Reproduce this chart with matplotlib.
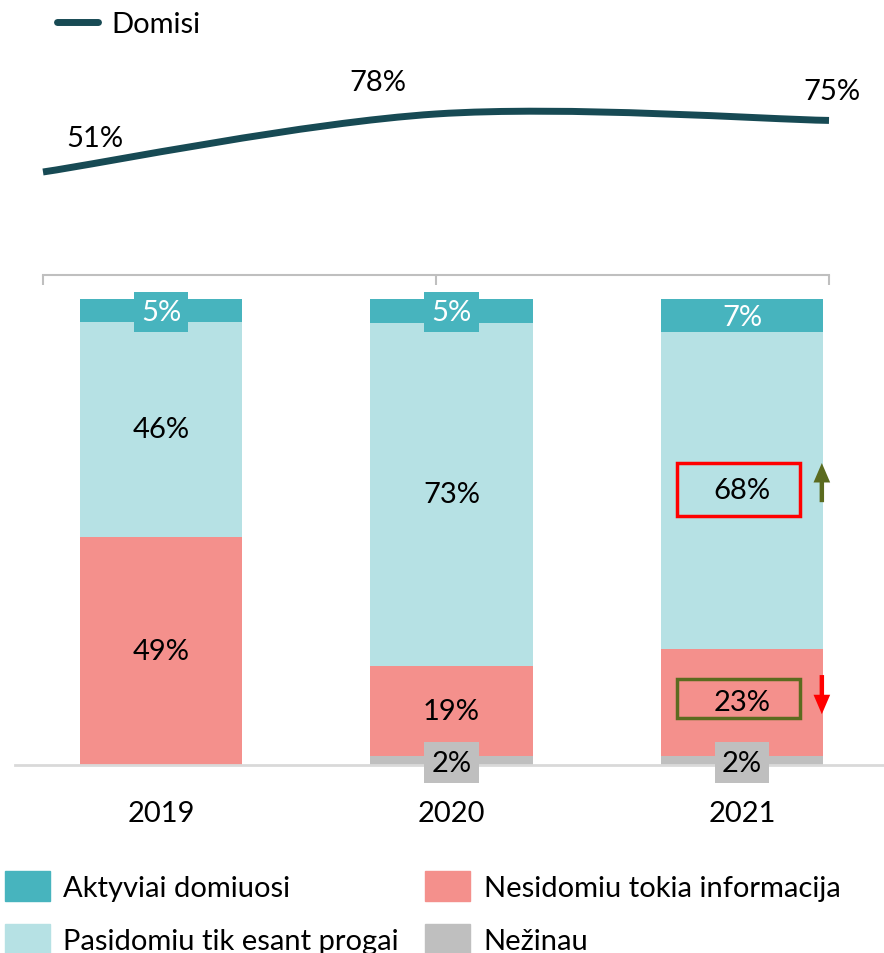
import matplotlib.pyplot as plt
from matplotlib.path import Path
from matplotlib.patches import PathPatch, Patch, Rectangle
from matplotlib.lines import Line2D
import numpy as np

plt.rcParams['font.family'] = ['Lato', 'DejaVu Sans']

years = ['2019', '2020', '2021']
domisi = [51, 78, 75]

aktyviai = [5, 5, 7]
pasidomiu = [46, 73, 68]
nesidomiu = [49, 19, 23]
nezinau = [0, 2, 2]

series_names = ['Aktyviai domiuosi', 'Pasidomiu tik esant progai',
                'Nesidomiu tokia informacija', 'Nežinau']
colors = ['#47B4BE', '#B6E1E4', '#F4908C', '#BFBFBF']
line_color = '#174A54'
fs = 21

W, H = 884, 954
fig = plt.figure(figsize=(W / 100, H / 100), dpi=100)


def frac(x0, y_top, x1, y_bot):
    return [x0 / W, 1 - y_bot / H, (x1 - x0) / W, (y_bot - y_top) / H]


# ---- line chart on top ----
axl = fig.add_axes(frac(43, 40, 829, 276))
xs = np.arange(len(domisi))
pts = np.column_stack([xs, domisi]).astype(float)

# smoothed line (bezier through the points, like a spreadsheet "smooth line")
verts = [pts[0]]
codes = [Path.MOVETO]
n = len(pts)
for i in range(n - 1):
    p_prev = pts[i - 1] if i > 0 else pts[i]
    p_next2 = pts[i + 2] if i + 2 < n else pts[i + 1]
    c1 = pts[i] + (pts[i + 1] - p_prev) / 6
    c2 = pts[i + 1] - (p_next2 - pts[i]) / 6
    verts += [c1, c2, pts[i + 1]]
    codes += [Path.CURVE4] * 3
axl.add_patch(PathPatch(Path(verts, codes), fc='none', ec=line_color, lw=5,
                        capstyle='butt', clip_on=False))

offsets = [(52, 34), (-58, 32), (3, 29)]
for x, v, off in zip(xs, domisi, offsets):
    axl.annotate(f'{v}%', (x, v), xytext=off, textcoords='offset pixels',
                 ha='center', va='center', fontsize=fs)

axl.set_xlim(0, 2)
axl.set_ylim(3.05, 112.9)
for s in ['top', 'left', 'right']:
    axl.spines[s].set_visible(False)
axl.spines['bottom'].set_color('#BFBFBF')
axl.spines['bottom'].set_linewidth(1.5)
axl.set_xticks(xs)
axl.set_xticklabels([])
axl.tick_params(axis='x', direction='out', length=7, width=1.5, color='#BFBFBF')
axl.set_yticks([])

fig.legend(handles=[Line2D([], [], color=line_color, lw=5, solid_capstyle='round')],
           labels=['Domisi'], loc='center left', bbox_to_anchor=(57 / W, 1 - 25 / H),
           frameon=False, fontsize=fs, handlelength=1.4, handletextpad=0.45,
           borderpad=0, borderaxespad=0)

# ---- 100% stacked bars ----
ax = fig.add_axes(frac(15, 300, 884, 766))
width = 0.558
data = [aktyviai, pasidomiu, nesidomiu, nezinau]
totals = np.sum(np.array(data, dtype=float), axis=0)
order = [3, 2, 1, 0]  # bottom to top
bottoms = np.zeros(len(years))
mids = {}
for k in order:
    vals = np.array(data[k], dtype=float) / totals * 100
    ax.bar(xs, vals, width, bottom=bottoms, color=colors[k], label=series_names[k])
    mids[k] = bottoms + vals / 2
    bottoms = bottoms + vals

for k in order:
    for i, v in enumerate(data[k]):
        if v == 0:
            continue
        y = mids[k][i]
        if k == 0:
            box = dict(boxstyle='square,pad=0.25', fc=colors[0], ec='none') if v < 6 else None
            ax.text(i, y - 0.3, f'{v}%', ha='center', va='center', color='white',
                    fontsize=fs, bbox=box)
        elif k == 3:
            ax.text(i, y - 0.5, f'{v}%', ha='center', va='center', color='black',
                    fontsize=fs, bbox=dict(boxstyle='square,pad=0.25', fc=colors[3], ec='none'))
        else:
            ax.text(i, y, f'{v}%', ha='center', va='center', color='black', fontsize=fs)

# highlight boxes and arrows on 2021
hl = 2
red, olive = '#FF0000', '#5B6B1F'
box_w = 0.423
box_x = hl - 0.224
y_up = mids[1][hl]
y_dn = mids[2][hl]
ax.add_patch(Rectangle((box_x, y_up - 5.6), box_w, 11.4, fill=False, ec=red, lw=2.5))
ax.add_patch(Rectangle((box_x, y_dn - 3.4), box_w, 8.4, fill=False, ec=olive, lw=2.5))
arrow = 'simple,head_length=0.7,head_width=0.6,tail_width=0.16'
ax.annotate('', xy=(hl + 0.275, y_up + 5.8), xytext=(hl + 0.275, y_up - 2.6),
            arrowprops=dict(arrowstyle=arrow, fc=olive, ec='none', mutation_scale=20,
                            shrinkA=0, shrinkB=0), annotation_clip=False)
ax.annotate('', xy=(hl + 0.275, y_dn - 2.6), xytext=(hl + 0.275, y_dn + 5.8),
            arrowprops=dict(arrowstyle=arrow, fc=red, ec='none', mutation_scale=20,
                            shrinkA=0, shrinkB=0), annotation_clip=False)

ax.set_xlim(-0.5026, 2.489)
ax.set_ylim(0, 100)
for s in ['top', 'left', 'right']:
    ax.spines[s].set_visible(False)
ax.spines['bottom'].set_color('#D9D9D9')
ax.spines['bottom'].set_linewidth(2)
ax.set_xticks(xs)
ax.set_xticklabels(years, fontsize=fs)
ax.tick_params(axis='x', length=0, pad=25)
ax.set_yticks([])

handles = [Patch(color=c) for c in colors]
fig.legend(handles=handles, labels=series_names, ncol=2, loc='upper left',
           bbox_to_anchor=(5 / W, 1 - 872 / H), frameon=False, fontsize=fs,
           handlelength=1.55, handleheight=1.2, handletextpad=0.45,
           labelspacing=0.8, columnspacing=0.9, borderpad=0, borderaxespad=0)

fig.savefig('out.png', dpi=100)
